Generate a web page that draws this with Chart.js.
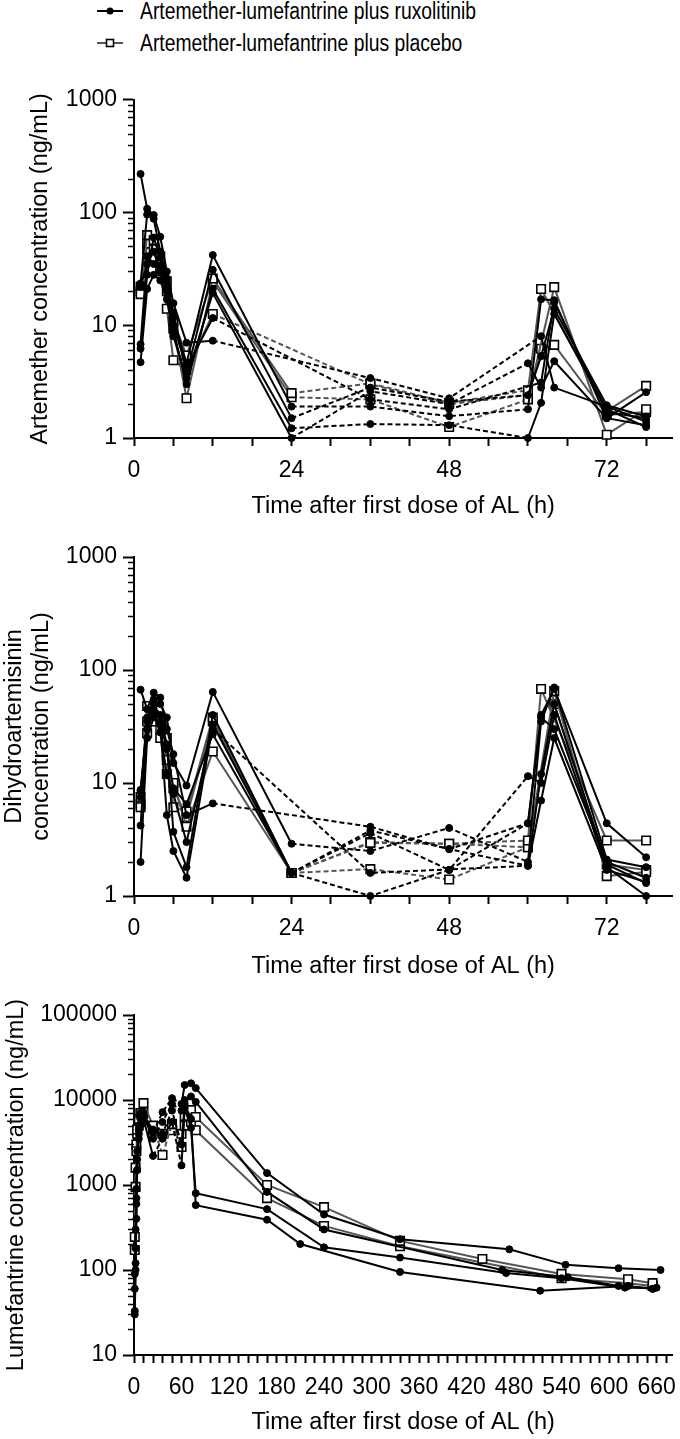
<!DOCTYPE html>
<html>
<head>
<meta charset="utf-8">
<script src="https://cdn.jsdelivr.net/npm/chart.js@4.4.1/dist/chart.umd.min.js"></script>
<style>
  body { margin: 0; background: #fff; width: 680px; height: 1439px; position: relative; overflow: hidden;
         font-family: "Liberation Sans", Arial, sans-serif; }
  .panel { position: absolute; left: 0; width: 680px; }
  .leg { position: absolute; left: 96px; height: 24px; line-height: 24px; font-size: 23px; color: #000; white-space: nowrap; }
  .leg svg { position: absolute; left: 0; top: 0; }
  .leg span { position: absolute; left: 44px; top: 0; transform: scaleX(0.84); transform-origin: 0 50%; }
</style>
</head>
<body>
<div class="leg" style="top:-1px">
  <svg width="30" height="24"><line x1="1" y1="12" x2="27" y2="12" stroke="#000" stroke-width="2"/><circle cx="14" cy="12" r="3.5" fill="#000"/></svg>
  <span>Artemether-lumefantrine plus ruxolitinib</span>
</div>
<div class="leg" style="top:31px">
  <svg width="30" height="24"><line x1="1" y1="12" x2="27" y2="12" stroke="#555" stroke-width="2"/><rect x="10.5" y="8.5" width="7" height="7" fill="#fff" stroke="#000" stroke-width="1.6"/></svg>
  <span>Artemether-lumefantrine plus placebo</span>
</div>

<canvas id="artChart" class="panel" style="top:80px" width="680" height="443"></canvas>
<canvas id="dhaChart" class="panel" style="top:530px" width="680" height="453"></canvas>
<canvas id="lumChart" class="panel" style="top:990px" width="680" height="449"></canvas>

<script>
// ---- data (hours, ng/mL); null = no sample / BLQ ----
const shortTimes = [1, 2, 3, 4, 5, 6, 8, 12, 24, 36, 48, 60, 62, 64, 72, 78];

// Artemether
const artRux1 = [220, 108, 95, 61, 30, 15.7, 7.0, 7.3, null, 3.4, 2.25, null, 8.0, 2.8, 1.9, 1.4];
const artRux2 = [23.5, 96, 88, 45, 26, 11.6, 4.6, 42, 1.9, 1.9, 1.56, 1.8, 17, 16.7, 1.5, 2.55];
const artRux3 = [6.8, 41, 35, 33, 24, 13, 3.7, 31, 1.5, 2.8, 2.1, 2.4, 5.3, 14, 1.95, 1.55];
const artRux4 = [6.2, 28, 60, 40, 20, 9, 3.0, 21, 1.22, 1.33, 1.3, 1.0, 2.05, 12.6, 1.8, 1.25];
const artRux5 = [4.7, 21, 28, 25, 17, 8, 3.4, 19.3, 1.0, 2.6, 2.0, 4.6, 2.8, 4.8, 1.5, 1.3];
const artRux6 = [22, 35, 45, 30, 22, 10, 4.2, 11.6, null, 2.2, 1.8, null, 3.1, 16, 1.7, 1.5];
const artPla1 = [18.9, 63, 57, 41, 24.5, 11, 5.4, 26, 2.5, 3.05, 2.05, 2.65, 21, null, 1.73, 2.9];
const artPla2 = [20, 53, 47, 33, 20, 9.3, 2.25, 24.5, 2.3, 2.2, 1.25, 2.2, null, 21.8, 1.07, 1.8];
const artPla3 = [22, 47, 40, 30, 14, 4.9, 4.0, 12.6, null, 3.0, 2.0, 2.4, 6.2, 6.7, 1.6, 1.7];

// Dihydroartemisinin
const dhaRux1 = [67, 45, 63, 57, 30, 18, 5.2, 6.6, null, 4.1, 2.6, 4.4, 40, 68, 4.4, 2.2];
const dhaRux2 = [8.7, 35, 55, 50, 38, 15, 9.5, 64, 2.9, 2.5, 4.0, 2.0, 35, 70, 2.1, 1.8];
const dhaRux3 = [4.2, 30, 45, 40, 22, 3.7, 1.8, 40, 1.6, 3.8, 2.6, 1.85, 12, 50, 1.9, 1.3];
const dhaRux4 = [2.0, 25, 38, 33, 5.2, 2.5, 1.45, 33, 1.6, 1.0, 1.7, 11.5, 10, 40, 1.8, 1.0];
const dhaRux5 = [7.5, 38, 50, 35, 20, 9, 6.5, 27, 1.6, 3.6, 1.7, 4.4, 38, 30, 2.0, 1.45];
const dhaRux6 = [8.5, 30, 42, 28, 12, 8, 3.0, 30, null, 1.6, null, 1.85, 7, 25, 1.7, 1.33];
const dhaPla1 = [6.1, 48, 40, 35, 25, 6.1, 5.6, 38, 1.6, 2.95, 2.9, 3.1, 68, null, 3.1, 3.1];
const dhaPla2 = [7.5, 27.6, 35, 25, 12, 10, 4.1, 19, 1.6, 1.73, 1.4, 2.7, null, 65, 1.5, 1.63];
const dhaPla3 = [6.5, 35, 38, 30, 16, 9, 5, 35, 1.6, 3.0, 2.9, 2.7, null, 50, 1.9, 1.7];

// Lumefantrine: shared early times, then per-subject late times
const lumEarlyTimes = [1, 2, 3, 4, 6, 8, 12, 24, 36, 48, 60, 64, 72, 78];
const lumRux1 = [30, 120, 700, 2000, 4500, 6500, 7000, 4100, 7200, 10500, 9000, 15000, 15700, 13800];
const lumRux1LateT = [168, 240, 336, 474, 545, 612, 665];
const lumRux1Late = [1380, 450, 230, 175, 115, 105, 100];
const lumRux2 = [33, 100, 400, 1500, 4000, 6000, 6500, 3500, 5500, 9000, 7500, 10000, 11000, 9500];
const lumRux2LateT = [168, 240, 465, 548, 612, 655];
const lumRux2Late = [830, 300, 100, 82, 65, 60];
const lumRux3 = [60, 180, 600, 1500, 3500, 5000, 6000, 2200, 3500, 5500, 1700, 8000, 4700, 800];
const lumRux3LateT = [168, 240, 336, 470, 540, 620, 660];
const lumRux3Late = [520, 185, 140, 92, 80, 62, 62];
const lumRux4 = [90, 300, 900, 2500, 5000, 7000, 6500, 4500, 4000, 7500, 3000, 9000, 6000, 580];
const lumRux4LateT = [168, 210, 336, 513, 624, 655];
const lumRux4Late = [390, 202, 95, 57, 65, 60];
const lumPla1 = [172, 950, 2500, 4500, 6000, 7000, 9200, 5000, 2250, 5200, 2800, 6500, 7600, 6300];
const lumPla1LateT = [168, 240, 336, 440, 540, 624, 655];
const lumPla1Late = [1000, 550, 220, 135, 90, 78, 70];
const lumPla2 = [245, 1600, 3000, 4000, 5000, 5500, 7000, 4100, 4000, 4400, 4000, 5000, 5500, 4400];
const lumPla2LateT = [168, 240, 336, 540, 624, 655];
const lumPla2Late = [700, 330, 190, 80, 70, 65];

// ---- helpers ----
const TICK_FONT = { family: '"Liberation Sans", Arial, sans-serif', size: 23 };
const TITLE_FONT = { family: '"Liberation Sans", Arial, sans-serif', size: 23.5 };
const isPow10 = v => Math.abs(Math.log10(v) - Math.round(Math.log10(v))) < 1e-9;
// between-dose samples (24-60 h) are joined with dashed lines
const isDashed = (a, b) => a >= 12 && a < 60 && b > 24;

function toPoints(times, vals) {
  return times.map((t, i) => vals[i] == null ? null : { x: t, y: vals[i] }).filter(Boolean);
}

function subject(points, placebo) {
  return {
    data: points,
    borderColor: placebo ? '#555' : '#000',
    borderWidth: 2,
    pointStyle: placebo ? 'rect' : 'circle',
    pointRadius: placebo ? 6 : 3.5,
    pointBackgroundColor: placebo ? '#fff' : '#000',
    pointBorderColor: '#000',
    pointBorderWidth: placebo ? 1.6 : 1,
    tension: 0,
    clip: false,
    segment: { borderDash: ctx => isDashed(ctx.p0.parsed.x, ctx.p1.parsed.x) ? [5, 3] : undefined }
  };
}

// short minor ticks on log axis
const minorTicks = {
  id: 'minorTicks',
  afterDraw(chart) {
    const s = chart.scales.y;
    const ctx = chart.ctx;
    ctx.save();
    ctx.strokeStyle = '#000';
    ctx.lineWidth = 1.5;
    s.ticks.forEach(t => {
      if (isPow10(t.value)) return;
      const y = Math.round(s.getPixelForValue(t.value)) + 0.5;
      ctx.beginPath();
      ctx.moveTo(s.right - 6, y);
      ctx.lineTo(s.right, y);
      ctx.stroke();
    });
    ctx.restore();
  }
};

function drawPanel(id, cfg) {
  new Chart(document.getElementById(id), {
    type: 'line',
    data: { datasets: cfg.datasets },
    plugins: [minorTicks],
    options: {
      responsive: false,
      animation: false,
      events: [],
      layout: { padding: { top: cfg.padTop, right: 3, bottom: 0, left: 0 } },
      plugins: { legend: { display: false }, tooltip: { enabled: false } },
      scales: {
        x: {
          type: 'linear',
          min: 0,
          max: cfg.xMax,
          afterFit: s => { s.height = cfg.xHeight; },
          border: { color: '#000', width: 2 },
          grid: { drawOnChartArea: false, drawTicks: true, tickLength: 8, tickColor: '#000', tickWidth: 2 },
          ticks: {
            stepSize: cfg.xStep,
            includeBounds: false,
            autoSkip: false,
            maxRotation: 0,
            maxTicksLimit: 200,
            padding: 11,
            color: '#000',
            font: TICK_FONT,
            callback: v => v % cfg.xLabelEvery === 0 ? String(v) : ''
          },
          title: { display: true, text: 'Time after first dose of AL (h)', color: '#000', font: TITLE_FONT, padding: { top: 0, bottom: 2 } }
        },
        y: {
          type: 'logarithmic',
          min: cfg.yMin,
          max: cfg.yMax,
          afterFit: s => { s.width = 134; },
          afterBuildTicks: axis => {
            const lo = Math.round(Math.log10(cfg.yMin));
            const hi = Math.round(Math.log10(cfg.yMax));
            const out = [];
            for (let e = lo; e < hi; e++) {
              for (let m = 1; m < 10; m++) out.push({ value: m * Math.pow(10, e) });
            }
            out.push({ value: Math.pow(10, hi) });
            axis.ticks = out;
          },
          border: { color: '#000', width: 2 },
          grid: {
            drawOnChartArea: false, drawTicks: true, tickLength: 11, tickWidth: 2,
            tickColor: ctx => (ctx.tick && isPow10(ctx.tick.value)) ? '#000' : 'rgba(0,0,0,0)'
          },
          ticks: {
            autoSkip: false,
            padding: 6,
            color: '#000',
            font: TICK_FONT,
            callback: v => isPow10(v) ? String(Math.round(v)) : ''
          },
          title: {
            display: true, text: cfg.yTitle, color: '#000',
            font: { ...TITLE_FONT, lineHeight: cfg.yTitleLh }, padding: { top: cfg.yTitlePad, bottom: 0 }
          }
        }
      }
    }
  });
}

// ---- panels ----
drawPanel('artChart', {
  padTop: 17, xHeight: 85, xMax: 82, xStep: 6, xLabelEvery: 24, yMin: 1, yMax: 1000,
  yTitle: 'Artemether concentration (ng/mL)', yTitlePad: 26, yTitleLh: 1.25,
  datasets: [artRux1, artRux2, artRux3, artRux4, artRux5, artRux6].map(v => subject(toPoints(shortTimes, v), false))
    .concat([artPla1, artPla2, artPla3].map(v => subject(toPoints(shortTimes, v), true)))
});

drawPanel('dhaChart', {
  padTop: 27, xHeight: 87, xMax: 82, xStep: 6, xLabelEvery: 24, yMin: 1, yMax: 1000,
  yTitle: ['Dihydroartemisinin', 'concentration (ng/mL)'], yTitlePad: 1, yTitleLh: 1.15,
  datasets: [dhaRux1, dhaRux2, dhaRux3, dhaRux4, dhaRux5, dhaRux6].map(v => subject(toPoints(shortTimes, v), false))
    .concat([dhaPla1, dhaPla2, dhaPla3].map(v => subject(toPoints(shortTimes, v), true)))
});

const lumRux = [[lumRux1, lumRux1LateT, lumRux1Late], [lumRux2, lumRux2LateT, lumRux2Late],
                [lumRux3, lumRux3LateT, lumRux3Late], [lumRux4, lumRux4LateT, lumRux4Late]];
const lumPla = [[lumPla1, lumPla1LateT, lumPla1Late], [lumPla2, lumPla2LateT, lumPla2Late]];
const lumSet = (s, placebo) => subject(toPoints(lumEarlyTimes.concat(s[1]), s[0].concat(s[2])), placebo);

drawPanel('lumChart', {
  padTop: 25, xHeight: 84, xMax: 680, xStep: 12, xLabelEvery: 60, yMin: 10, yMax: 100000,
  yTitle: 'Lumefantrine concentration (ng/mL)', yTitlePad: 2, yTitleLh: 1.25,
  datasets: lumRux.map(s => lumSet(s, false)).concat(lumPla.map(s => lumSet(s, true)))
});
</script>
</body>
</html>
